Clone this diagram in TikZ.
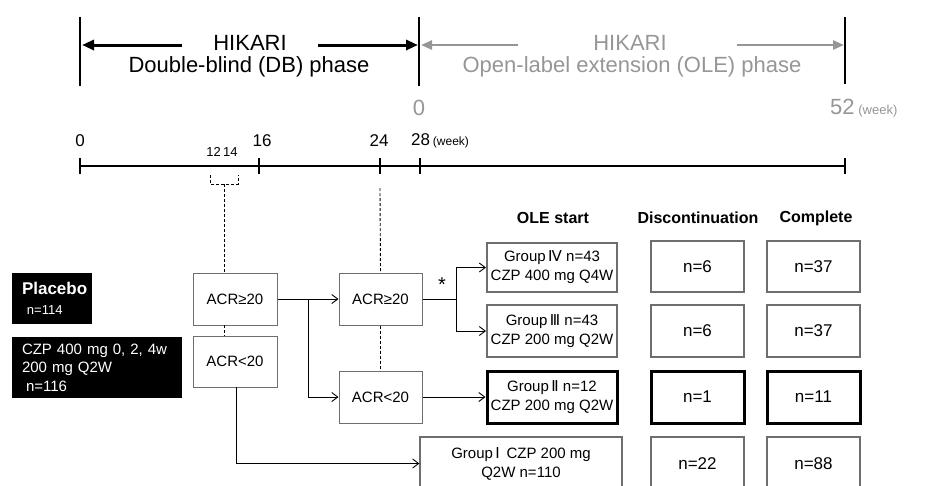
\documentclass[tikz,border=0pt]{standalone}
\usepackage{fontspec}
\setmainfont{Liberation Sans}
\newfontfamily\dv{DejaVu Sans}
\usetikzlibrary{arrows.meta,calc}
\newcommand\fsz[2]{\fontsize{#1}{#2}\selectfont}
\definecolor{lgray}{RGB}{150,150,150}
\definecolor{bgray}{RGB}{110,110,110}
\begin{document}
\begin{tikzpicture}[x=1pt,y=-1pt,
  acr/.style={draw=bgray, line width=1pt, minimum width=84, minimum height=52, inner sep=0pt, font=\fsz{15}{18}, fill=white},
  grp/.style={draw=bgray, line width=2pt, minimum width=130, minimum height=50, inner sep=0pt, align=center, font=\fsz{15}{19}},
  nbox/.style={draw=bgray, line width=1.8pt, minimum width=93, minimum height=50, inner sep=0pt, font=\fsz{17}{19}},
  heavy/.style={draw=black, line width=3pt},
  light/.style={draw=bgray, line width=1.2pt},
  conn/.style={-{Straight Barb[length=6pt,width=9pt]}, line width=0.9pt},
  dsh/.style={dash pattern=on 3pt off 2pt, line width=0.9pt},
  bar/.style={line width=1.6pt},
  tlab/.style={font=\fsz{17}{18}, inner sep=0pt},
  hdr/.style={font=\fsz{16}{18}\bfseries, inner sep=0pt},
  big/.style={font=\fsz{22}{24}, inner sep=0pt},
  blk/.style={fill=black, text=white, inner sep=0pt, align=left}
]
\useasboundingbox (0,0) rectangle (937,485);
\clip (0,0) rectangle (937,485);

% ---- phase bars ----
\coordinate (pL) at (80,17);
\coordinate (pM) at (419,17);
\coordinate (pR) at (845,17);
\draw[bar] (pL) -- ++(0,69);
\draw[bar] (pM) -- ++(0,69);
\draw[bar] (pR) -- ++(0,67);
\coordinate (dbA) at (182,45); \coordinate (dbAe) at (82,45);
\coordinate (dbB) at (318,45); \coordinate (dbBe) at (418,45);
\draw[line width=3pt, -{Triangle[length=12pt,width=10pt]}] (dbA) -- (dbAe);
\draw[line width=3pt, -{Triangle[length=12pt,width=10pt]}] (dbB) -- (dbBe);
\coordinate (oA) at (518,45); \coordinate (oAe) at (421,45);
\coordinate (oB) at (737,45); \coordinate (oBe) at (844,45);
\draw[lgray, line width=2.6pt, -{Triangle[length=11pt,width=9pt]}] (oA) -- (oAe);
\draw[lgray, line width=2.6pt, -{Triangle[length=11pt,width=9pt]}] (oB) -- (oBe);
\node[big] (h1) at (250,43) {HIKARI};
\node[big] (h2) at (249,67) {Double-blind (DB) phase};
\node[big, text=lgray] (h3) at (630,43) {HIKARI};
\node[big, text=lgray] (h4) at (632,67) {Open-label extension (OLE) phase};
\node[big, text=lgray] (z0) at (419,108) {0};
\node[big, text=lgray, anchor=west] (z52) at (830,108) {52\,{\fsz{13}{15}(week)}};

% ---- timeline ----
\coordinate (t0) at (80,166);
\coordinate (t52) at (845,166);
\draw[line width=1.4pt] (t0) -- (t52);
\foreach \xx in {80,259,380,420,845} \draw[line width=1.6pt] (\xx,158) -- (\xx,174);
\node[tlab] (l0) at (80,141) {0};
\node[tlab, font=\fsz{13}{15}] (l12) at (222,152) {12\,14};
\node[tlab] (l16) at (262,141) {16};
\node[tlab] (l24) at (379,141) {24};
\node[tlab, anchor=west] (l28) at (411,141) {28\,{\fsz{12}{14}(week)}};
% bracket
\coordinate (br) at (224,184);
\draw[dsh] (210,175) -- (210,184) -- (238,184) -- (238,175);

% ---- headers ----
\node[hdr] (hOLE) at (553,218) {OLE start};
\node[hdr] (hD) at (698,218) {Discontinuation};
\node[hdr] (hC) at (816,218) {Complete};

% ---- left boxes ----
\node[blk, minimum width=80, minimum height=51, text width=60, font=\fsz{17}{20}] (plc) at (52,298.5)
  {{\bfseries Placebo}\\{\fsz{13}{20}\hspace{5pt}n=114}};
\node[blk, minimum width=170, minimum height=61, text width=150, font=\fsz{15}{18.5}] (czp) at (97,367.5)
  {CZP 400 mg 0, 2, 4w\\200 mg Q2W\\\hspace{4pt}n=116};

% ---- ACR boxes ----
\node[acr] (a1) at (235,299) {ACR≥20};
\node[acr, minimum height=51] (a2) at (235,361.5) {ACR<20};
\node[acr, minimum width=83] (a3) at (380.5,299) {ACR≥20};
\node[acr, minimum width=83] (a4) at (380.5,397) {ACR<20};

% ---- OLE groups ----
\node[grp, minimum height=49] (g4) at (552,267.5) {Group\,{\dv Ⅳ} n=43\\CZP 400 mg Q4W};
\node[grp, minimum height=52] (g3) at (552,331) {Group\,{\dv Ⅲ} n=43\\CZP 200 mg Q2W};
\node[grp, heavy, minimum height=52] (g2) at (552,397) {Group\,{\dv Ⅱ} n=12\\CZP 200 mg Q2W};
\node[grp, light, minimum width=202, minimum height=53] (g1) at (521,463.5) {Group\,{\dv Ⅰ}\, CZP 200 mg\\Q2W n=110};

% ---- outcome boxes ----
\node[nbox, minimum height=51] (d4) at (697.5,266.5) {n=6};
\node[nbox, minimum height=51] (c4) at (813.5,266.5) {n=37};
\node[nbox, minimum height=52] (d3) at (697.5,331) {n=6};
\node[nbox, minimum height=52] (c3) at (813.5,331) {n=37};
\node[nbox, heavy, minimum height=52] (d2) at (697.5,397) {n=1};
\node[nbox, heavy, minimum height=52] (c2) at (813.5,397) {n=11};
\node[nbox, light, minimum height=53] (d1) at (697.5,463.5) {n=22};
\node[nbox, light, minimum height=53] (c1) at (813.5,463.5) {n=88};

% ---- dashed links ----
\draw[dsh] (br) -- (br |- a1.north);
\draw[dsh] (224,325) -- (224,336);
\coordinate (t24) at (380,188);
\draw[dsh] (t24) -- (a3.north);
\draw[dsh] (a3.south) -- (a4.north);

% ---- connectors ----
\coordinate (s1) at (308,299);
\draw[conn] (a1.east) -- (a3.west);
\draw[conn] (s1) |- (a4.west);
\coordinate (s2) at (236,387);
\draw[conn] (s2) |- (g1.west);
\coordinate (s3) at (456,299);
\draw[line width=0.9pt] (a3.east) -- (s3);
\draw[conn] (s3) |- (g4.west);
\draw[conn] (s3) |- (g3.west);
\draw[conn] (a4.east) -- (g2.west);
\node[font=\fsz{20}{20}, inner sep=0pt] (star) at (442,285) {*};
\end{tikzpicture}
\end{document}
